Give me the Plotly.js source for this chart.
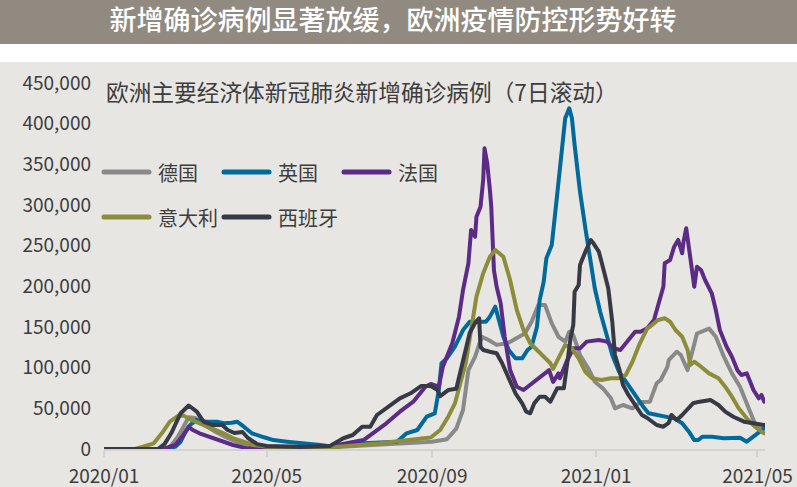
<!DOCTYPE html>
<html>
<head>
<meta charset="utf-8">
<script src="https://cdn.plot.ly/plotly-3.0.1.min.js"></script>
<style>
  html, body { margin: 0; padding: 0; background: #ffffff; overflow: hidden; }
  #chart { width: 797px; height: 487px; }
  .scatterlayer .js-line, .shapelayer path { stroke-linecap: round; stroke-linejoin: round; }
</style>
</head>
<body>
<div id="chart"></div>
<script>
// ---------------- DATA (7-day rolling new confirmed cases) ----------------
const mainTitle = '新增确诊病例显著放缓，欧洲疫情防控形势好转';
const subTitle = '欧洲主要经济体新冠肺炎新增确诊病例（7日滚动）';
const countries = ['德国', '英国', '法国', '意大利', '西班牙'];
const yTickVals = [0, 50000, 100000, 150000, 200000, 250000, 300000, 350000, 400000, 450000];

const germanyDates = ['2020-01-01','2020-02-18','2020-02-25','2020-03-01','2020-03-04','2020-03-09','2020-03-15','2020-03-23','2020-03-31','2020-04-10','2020-04-20','2020-05-01','2020-06-29','2020-08-01','2020-09-01','2020-09-12','2020-09-19','2020-09-24','2020-09-28','2020-10-03','2020-10-08','2020-10-13','2020-10-19','2020-10-27','2020-11-03','2020-11-09','2020-11-14','2020-11-19','2020-11-24','2020-11-29','2020-12-04','2020-12-09','2020-12-12','2020-12-15','2020-12-20','2020-12-26','2020-12-31','2021-01-06','2021-01-12','2021-01-15','2021-01-21','2021-01-28','2021-02-03','2021-02-10','2021-02-15','2021-02-18','2021-02-23','2021-02-24','2021-03-02','2021-03-05','2021-03-10','2021-03-14','2021-03-17','2021-03-26','2021-03-31','2021-04-06','2021-04-12','2021-04-18','2021-04-24','2021-04-29','2021-05-06'];
const germanyCases = [0,0,15000,30000,39000,38000,30000,22000,15000,8000,5000,3500,3000,6000,9000,12000,25000,48000,97000,113500,138000,134000,128000,130000,136000,142000,156500,177000,177000,154500,138000,132000,144000,140000,115600,99600,82700,74600,62300,50000,54100,50000,57800,58200,80800,84800,101000,109400,119600,115600,97000,121700,142000,148000,138000,113500,93000,76600,52000,31600,25800];

const ukDates = ['2020-01-01','2020-02-19','2020-02-23','2020-02-27','2020-03-01','2020-03-05','2020-03-10','2020-03-17','2020-03-25','2020-03-30','2020-04-05','2020-04-09','2020-04-14','2020-04-20','2020-04-29','2020-05-06','2020-05-16','2020-05-31','2020-06-10','2020-06-20','2020-07-12','2020-08-06','2020-08-13','2020-08-21','2020-08-28','2020-09-03','2020-09-06','2020-09-08','2020-09-12','2020-09-18','2020-09-24','2020-09-29','2020-10-06','2020-10-11','2020-10-14','2020-10-18','2020-10-20','2020-10-24','2020-10-28','2020-11-02','2020-11-07','2020-11-11','2020-11-14','2020-11-18','2020-11-20','2020-11-23','2020-11-25','2020-11-29','2020-12-03','2020-12-07','2020-12-09','2020-12-12','2020-12-14','2020-12-16','2020-12-20','2020-12-24','2020-12-28','2020-12-31','2021-01-04','2021-01-09','2021-01-13','2021-01-18','2021-01-23','2021-01-28','2021-01-31','2021-02-05','2021-02-09','2021-02-15','2021-02-23','2021-02-28','2021-03-06','2021-03-11','2021-03-15','2021-03-18','2021-03-21','2021-03-28','2021-04-06','2021-04-13','2021-04-18','2021-04-23','2021-04-28','2021-05-03','2021-05-06'];
const ukCases = [0,0,2800,9000,19300,29500,35700,33600,33600,31600,32300,33600,27400,19300,14400,11000,9000,7000,4900,2500,7000,9000,19300,23400,39700,43900,72500,105400,111500,125800,146300,156500,156500,156500,162700,175000,162700,138000,121700,111500,111500,121700,125800,150400,183000,205700,234500,250800,312300,382000,406600,418900,406600,373800,316400,271400,230300,197600,168800,140200,115600,95000,82700,70500,62300,52000,43900,41800,39700,37700,31600,21300,11000,11000,15100,15100,13200,13200,13900,9000,15100,21300,25400];

const franceDates = ['2020-01-01','2020-02-14','2020-02-23','2020-02-28','2020-03-04','2020-03-07','2020-03-12','2020-03-22','2020-03-30','2020-04-06','2020-04-16','2020-05-26','2020-06-17','2020-07-12','2020-07-19','2020-07-29','2020-08-08','2020-08-18','2020-08-27','2020-08-31','2020-09-06','2020-09-09','2020-09-11','2020-09-16','2020-09-21','2020-09-24','2020-09-28','2020-09-30','2020-10-03','2020-10-04','2020-10-07','2020-10-09','2020-10-10','2020-10-12','2020-10-14','2020-10-15','2020-10-17','2020-10-19','2020-10-22','2020-10-25','2020-10-29','2020-11-03','2020-11-08','2020-11-13','2020-11-18','2020-11-23','2020-11-27','2020-11-30','2020-12-04','2020-12-05','2020-12-10','2020-12-15','2020-12-20','2020-12-25','2021-01-03','2021-01-09','2021-01-14','2021-01-19','2021-01-24','2021-01-30','2021-02-03','2021-02-08','2021-02-13','2021-02-16','2021-02-20','2021-02-21','2021-02-25','2021-02-28','2021-03-03','2021-03-06','2021-03-07','2021-03-09','2021-03-11','2021-03-13','2021-03-15','2021-03-17','2021-03-20','2021-03-23','2021-03-28','2021-03-31','2021-04-03','2021-04-08','2021-04-12','2021-04-16','2021-04-19','2021-04-23','2021-04-28','2021-05-02','2021-05-04','2021-05-06'];
const franceCases = [0,0,5000,15000,27400,23400,19300,13200,9000,4900,1000,2000,3000,11000,19300,31600,45900,58200,76600,80000,76600,101200,109400,130000,162700,195500,228300,269300,261000,285600,297900,330700,369700,351300,318400,297900,220000,199500,179100,138000,97000,76600,72500,78700,84800,91000,97000,82400,93000,86900,107300,123800,123800,132000,134000,132000,123800,121700,132000,144200,144200,148400,158600,175000,199500,228300,232400,248700,257000,240600,254900,271400,244700,224100,199500,224100,220000,207800,191400,170900,146300,125800,113500,97000,91000,93000,72500,62300,66400,58200];

const italyDates = ['2020-01-01','2020-01-24','2020-01-30','2020-02-07','2020-02-13','2020-02-19','2020-02-25','2020-02-29','2020-03-06','2020-03-15','2020-03-22','2020-03-30','2020-04-06','2020-04-14','2020-04-21','2020-05-01','2020-06-17','2020-07-24','2020-08-18','2020-08-31','2020-09-07','2020-09-13','2020-09-18','2020-09-23','2020-09-26','2020-09-28','2020-10-01','2020-10-04','2020-10-09','2020-10-14','2020-10-18','2020-10-24','2020-10-29','2020-11-03','2020-11-08','2020-11-13','2020-11-18','2020-11-23','2020-11-28','2020-11-30','2020-12-04','2020-12-09','2020-12-14','2020-12-19','2020-12-24','2020-12-29','2021-01-05','2021-01-12','2021-01-18','2021-01-23','2021-01-28','2021-02-02','2021-02-08','2021-02-10','2021-02-16','2021-02-21','2021-02-25','2021-03-01','2021-03-06','2021-03-10','2021-03-12','2021-03-15','2021-03-20','2021-03-26','2021-04-02','2021-04-07','2021-04-12','2021-04-17','2021-04-23','2021-04-29','2021-05-06'];
const italyCases = [0,0,2800,7000,19300,33600,40600,41200,35700,29500,25500,19300,13200,9000,4900,2800,1800,7000,11000,14100,23400,39700,56200,84800,105400,125800,154500,187300,216000,236400,244700,236400,207800,170900,146300,130000,121700,113500,105400,98400,111500,127900,123800,111500,95000,86900,84800,86900,86900,91000,107300,127900,148400,150400,158600,160700,156500,146300,138000,121700,103300,107300,101200,93000,86900,76600,64300,50000,37700,27400,19300];

const spainDates = ['2020-01-01','2020-02-10','2020-02-15','2020-02-20','2020-02-27','2020-03-04','2020-03-10','2020-03-15','2020-03-22','2020-03-29','2020-04-02','2020-04-07','2020-04-13','2020-04-17','2020-04-24','2020-05-01','2020-05-26','2020-06-17','2020-06-27','2020-07-04','2020-07-11','2020-07-17','2020-07-22','2020-07-31','2020-08-08','2020-08-16','2020-08-24','2020-08-31','2020-09-05','2020-09-07','2020-09-13','2020-09-19','2020-09-23','2020-09-27','2020-09-29','2020-10-03','2020-10-06','2020-10-07','2020-10-09','2020-10-14','2020-10-19','2020-10-23','2020-10-28','2020-11-02','2020-11-07','2020-11-10','2020-11-13','2020-11-16','2020-11-20','2020-11-24','2020-11-28','2020-12-03','2020-12-08','2020-12-10','2020-12-13','2020-12-15','2020-12-16','2020-12-19','2020-12-20','2020-12-24','2020-12-28','2020-12-30','2021-01-03','2021-01-05','2021-01-08','2021-01-10','2021-01-13','2021-01-15','2021-01-18','2021-01-21','2021-01-25','2021-01-30','2021-02-04','2021-02-08','2021-02-15','2021-02-20','2021-02-24','2021-02-26','2021-03-02','2021-03-06','2021-03-11','2021-03-14','2021-03-19','2021-03-27','2021-04-02','2021-04-07','2021-04-13','2021-04-21','2021-04-28','2021-05-06'];
const spainCases = [0,0,6000,19300,44000,53500,45900,33600,29500,29500,23400,19700,20900,13500,6000,3700,2500,3700,13200,17200,27400,27400,41800,52000,62300,68500,77500,77500,72500,65000,72500,74000,103000,130000,143000,155000,160700,125800,121700,119600,117700,105700,86900,68500,56200,45900,43900,56200,64300,64300,58200,74600,74600,99600,136500,152500,193400,201600,226200,242600,257000,252900,242600,230300,209900,197600,156500,115600,99600,78700,66400,54100,41800,38100,29500,27400,32000,41800,35700,41800,52000,56200,58200,60200,54100,45900,39700,33600,31600,29500];

// ---------------- STYLE ----------------
const seriesColors = ['#898989', '#006a9c', '#5b2b86', '#8b8d3b', '#373945'];
const textColor = '#3d3d3d';
const FONT = '"Noto Sans CJK SC", "Noto Sans", sans-serif';

const seriesDates = [germanyDates, ukDates, franceDates, italyDates, spainDates];
const seriesCases = [germanyCases, ukCases, franceCases, italyCases, spainCases];

const traces = countries.map((name, i) => ({
  type: 'scatter',
  mode: 'lines',
  name: name,
  x: seriesDates[i],
  y: seriesCases[i],
  line: { color: seriesColors[i], width: 4, shape: 'linear' },
  showlegend: false,
  hoverinfo: 'skip'
}));

// geometry helpers (plot area: x 104..765 px, y 83..449 px)
const PL = 104, PR = 765, PT = 83, PB = 449;
const px = v => (v - PL) / (PR - PL);
const py = v => (PB - v) / (PB - PT);

// legend (two rows) built from shapes + text
const legendCols = [102, 222, 342, 102, 222];
const legendRows = [172, 172, 172, 217, 217];
const shapes = [
  { type: 'rect', xref: 'paper', yref: 'paper', x0: px(-20), x1: px(820), y0: py(62), y1: py(-20),
    fillcolor: '#ffffff', line: { width: 0 }, layer: 'below' },
  { type: 'rect', xref: 'paper', yref: 'paper', x0: px(-20), x1: px(820), y0: py(44), y1: py(-20),
    fillcolor: '#918a80', line: { width: 0 }, layer: 'below' }
];
const annotations = [
  { text: subTitle, xref: 'paper', yref: 'paper', x: px(104), y: py(91), xanchor: 'left', yanchor: 'middle',
    showarrow: false, font: { family: FONT, size: 22.7, color: textColor } }
];
countries.forEach((name, i) => {
  shapes.push({ type: 'line', xref: 'paper', yref: 'paper',
    x0: px(legendCols[i] + 2), x1: px(legendCols[i] + 47), y0: py(legendRows[i]), y1: py(legendRows[i]),
    line: { color: seriesColors[i], width: 5 } });
  annotations.push({ text: name, xref: 'paper', yref: 'paper', x: px(legendCols[i] + 54), y: py(legendRows[i]),
    xanchor: 'left', yanchor: 'middle', showarrow: false,
    font: { family: FONT, size: 20, color: textColor } });
});

const layout = {
  width: 797, height: 487,
  margin: { l: PL, r: 797 - PR, t: PT, b: 487 - PB, pad: 0 },
  paper_bgcolor: '#e8e6e3',
  plot_bgcolor: 'rgba(0,0,0,0)',
  font: { family: FONT, color: textColor },
  title: { text: mainTitle, font: { family: FONT, size: 27, color: '#ffffff', weight: 500 },
    xref: 'container', yref: 'container', x: 393 / 797, y: 1 - 21 / 487, xanchor: 'center', yanchor: 'middle' },
  showlegend: false,
  xaxis: {
    type: 'date',
    range: ['2020-01-01', '2021-05-06 14:00'],
    tick0: '2020-01-01', dtick: 'M4', tickformat: '%Y/%m',
    showgrid: false, zeroline: false,
    showline: true, linecolor: '#d5d3d0', linewidth: 2,
    ticks: 'outside', ticklen: 6, tickwidth: 2, tickcolor: '#d5d3d0',
    ticklabelstandoff: 3,
    tickfont: { family: FONT, size: 19, color: textColor },
    fixedrange: true
  },
  yaxis: {
    range: [0, 450000],
    tickvals: yTickVals, tickformat: ',d',
    showgrid: false, zeroline: false, showline: false,
    ticks: '', ticklabelstandoff: 12,
    tickfont: { family: FONT, size: 19, color: textColor },
    fixedrange: true
  },
  shapes: shapes,
  annotations: annotations
};

Plotly.newPlot('chart', traces, layout, { displayModeBar: false, staticPlot: true });
</script>
</body>
</html>
